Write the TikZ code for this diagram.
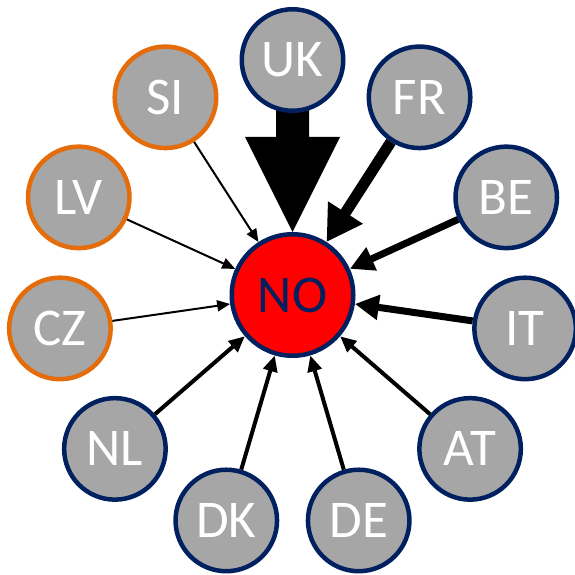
\documentclass[tikz,border=0pt]{standalone}
\usepackage{fontspec}
\setmainfont{Carlito}
\usetikzlibrary{arrows.meta,calc,backgrounds}
\definecolor{navy}{HTML}{002060}
\definecolor{orng}{HTML}{E46C0A}
\definecolor{nodegray}{HTML}{A6A6A6}
\begin{document}
\begin{tikzpicture}[x=1pt,y=1pt,
  country/.style={circle,draw=navy,line width=4.5pt,fill=nodegray,minimum size=101.5pt,inner sep=0pt,text=white,font=\fontsize{53}{60}\selectfont},
  orangec/.style={country,draw=orng},
  hub/.style={circle,draw=navy,line width=4.5pt,fill=red,minimum size=121.5pt,inner sep=0pt,text=navy,font=\fontsize{53}{60}\selectfont},
  thin/.style={line width=2pt,-{Triangle[length=13pt,width=11pt]}},
  med/.style={line width=4pt,-{Triangle[length=16pt,width=14pt]}},
  thick/.style={line width=7pt,-{Triangle[length=24pt,width=24pt]}},
  heavy/.style={line width=11pt,-{Triangle[length=35pt,width=39pt]}}
]
\useasboundingbox (0,0) rectangle (575,574);
\node[hub] (NO) at (292.5,279) {NO};
\node[country] (UK) at ($(NO)+(90:235)$) {UK};
\node[orangec] (SI) at ($(NO)+(122.727:235)$) {SI};
\node[orangec] (LV) at ($(NO)+(155.455:235)$) {LV};
\node[orangec] (CZ) at ($(NO)+(188.182:235)$) {CZ};
\node[country] (NL) at ($(NO)+(220.909:235)$) {NL};
\node[country] (DK) at ($(NO)+(253.636:235)$) {DK};
\node[country] (DE) at ($(NO)+(286.364:235)$) {DE};
\node[country] (AT) at ($(NO)+(319.091:235)$) {AT};
\node[country] (IT) at ($(NO)+(351.818:235)$) {IT};
\node[country] (BE) at ($(NO)+(24.545:235)$) {BE};
\node[country] (FR) at ($(NO)+(57.273:235)$) {FR};
\begin{pgfonlayer}{background}
\fill ($(UK.center)+(-16.5,0)$) -- ($(NO.north)+(-16.5,95)$) -- ($(NO.north)+(-47.5,95)$)
  -- (NO.north) -- ($(NO.north)+(47.5,95)$) -- ($(NO.north)+(16.5,95)$) -- ($(UK.center)+(16.5,0)$) -- cycle;
\end{pgfonlayer}
\draw[heavy] (FR) -- (NO);
\draw[thick] (BE) -- (NO);
\draw[thick] (IT) -- (NO);
\draw[med] (AT) -- (NO);
\draw[med] (DE) -- (NO);
\draw[med] (DK) -- (NO);
\draw[med] (NL) -- (NO);
\draw[thin] (CZ) -- (NO);
\draw[thin] (LV) -- (NO);
\draw[thin] (SI) -- (NO);
\end{tikzpicture}
\end{document}
